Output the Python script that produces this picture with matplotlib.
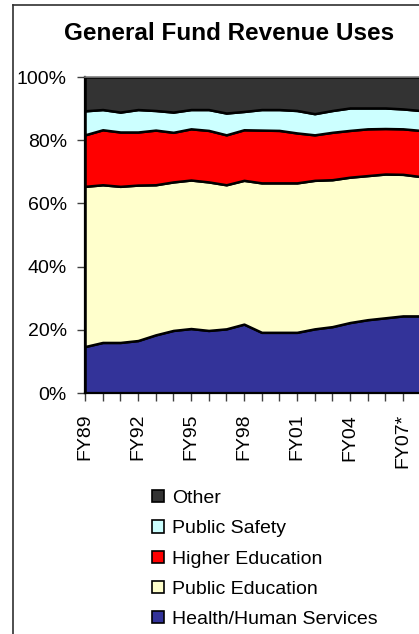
import matplotlib
matplotlib.use("Agg")
import matplotlib.pyplot as plt
from matplotlib.lines import Line2D
from matplotlib.patches import Patch

plt.rcParams["font.family"] = ["Liberation Sans", "DejaVu Sans"]

years = ["FY89", "FY90", "FY91", "FY92", "FY93", "FY94", "FY95", "FY96", "FY97", "FY98",
         "FY99", "FY00", "FY01", "FY02", "FY03", "FY04", "FY05", "FY06", "FY07*", "FY08*"]
shown_labels = ["FY89", "FY92", "FY95", "FY98", "FY01", "FY04", "FY07*"]

# shares of the general fund, percent
health_human = [14.7, 16.0, 16.0, 16.6, 18.4, 19.8, 20.4, 19.8, 20.3, 21.8,
                19.2, 19.2, 19.2, 20.3, 21.0, 22.3, 23.2, 23.8, 24.4, 24.4]
public_ed = [50.7, 49.9, 49.4, 49.2, 47.5, 47.0, 47.0, 47.0, 45.6, 45.5,
             47.3, 47.3, 47.3, 47.0, 46.5, 46.0, 45.6, 45.5, 44.8, 44.1]
higher_ed = [16.3, 17.4, 17.2, 16.8, 17.3, 15.7, 16.2, 16.3, 15.8, 16.0,
             16.7, 16.6, 15.8, 14.4, 15.0, 14.8, 14.8, 14.4, 14.4, 14.6]
public_safety = [7.6, 6.4, 6.3, 7.1, 6.2, 6.4, 6.1, 6.6, 6.9, 5.8,
                 6.5, 6.6, 7.1, 6.7, 6.9, 7.1, 6.6, 6.5, 6.3, 6.3]
other = [10.7, 10.3, 11.1, 10.3, 10.6, 11.1, 10.3, 10.3, 11.4, 10.9,
         10.3, 10.3, 10.6, 11.6, 10.6, 9.8, 9.8, 9.8, 10.1, 10.6]

series = [health_human, public_ed, higher_ed, public_safety, other]
names = ["Health/Human Services", "Public Education", "Higher Education", "Public Safety", "Other"]
colors = ["#333399", "#FFFFCC", "#FF0000", "#CCFFFF", "#333333"]

fig = plt.figure(figsize=(4.19, 6.34), dpi=100)
ax = fig.add_axes([85 / 419, 241 / 634, 335.6 / 419, 316 / 634])

x = list(range(len(years)))
ax.stackplot(x, *series, colors=colors, edgecolor="black", linewidth=1.8)

ax.set_xlim(0, len(years) - 1)
ax.set_ylim(0, 100)
ax.set_yticks([0, 20, 40, 60, 80, 100])
ax.set_yticklabels([f"{v}%" for v in range(0, 101, 20)], fontsize=14)
ax.set_xticks(x)
ax.set_xticklabels([y if y in shown_labels else "" for y in years],
                   rotation=90, fontsize=14)
ax.tick_params(axis="y", length=6, width=1, pad=7, color="#404040")
ax.tick_params(axis="x", length=6, width=1, pad=9, color="#404040")

ax.spines["left"].set_linewidth(1.6)
ax.spines["bottom"].set_linewidth(1.6)
ax.spines["top"].set_color("#808080")
ax.spines["top"].set_linewidth(1.2)
ax.spines["right"].set_visible(False)

fig.text(229 / 419, 1 - 33 / 634, "General Fund Revenue Uses",
         ha="center", va="center", fontsize=17.5, fontweight="bold")

# outer chart frame
fig.add_artist(Line2D([13 / 419, 13 / 419], [0, 1 - 5 / 634], transform=fig.transFigure,
                      color="#303030", linewidth=1.2))
fig.add_artist(Line2D([13 / 419, 1], [1 - 5 / 634, 1 - 5 / 634], transform=fig.transFigure,
                      color="#303030", linewidth=1.2))

handles = [Patch(facecolor=c, edgecolor="black", linewidth=1.2) for c in colors][::-1]
fig.legend(handles, names[::-1], loc="upper left", bbox_to_anchor=(152 / 419, 1 - 490 / 634),
           frameon=False, fontsize=14, handlelength=0.6, handleheight=0.6,
           handletextpad=0.45, labelspacing=0.68, borderaxespad=0, borderpad=0)

fig.savefig("out.png", dpi=100)
